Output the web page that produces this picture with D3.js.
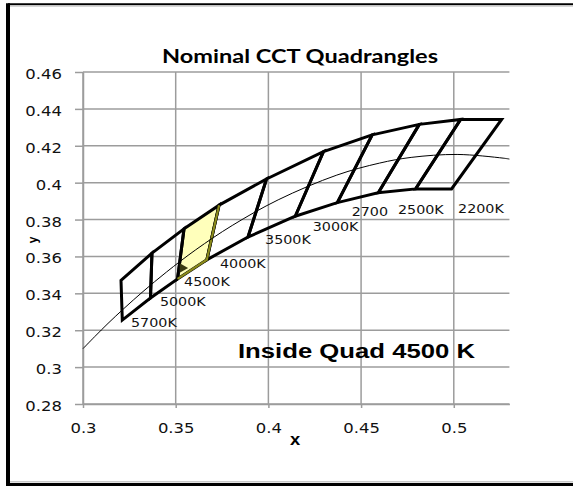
<!DOCTYPE html>
<html>
<head>
<meta charset="utf-8">
<script src="https://cdn.jsdelivr.net/npm/d3@7"></script>
<style>
  body { margin: 0; background: #fff; }
  svg { display: block; }
</style>
</head>
<body>
<div id="chart"></div>
<script>
// quadrangle boundaries (CIE 1931 x, y), cool -> warm
const upperX = [0.3205, 0.3372, 0.3545, 0.3734, 0.3990, 0.4297, 0.4560, 0.4814, 0.5037, 0.5258];
const upperY = [0.3470, 0.3618, 0.3750, 0.3878, 0.4020, 0.4168, 0.4259, 0.4316, 0.4343, 0.4343];
const lowerX = [0.3212, 0.3364, 0.3510, 0.3668, 0.3890, 0.4145, 0.4372, 0.4593, 0.4794, 0.4988];
const lowerY = [0.3255, 0.3375, 0.3478, 0.3582, 0.3705, 0.3818, 0.3892, 0.3945, 0.3966, 0.3966];

const quadNames = ["5700K", "5000K", "4500K", "4000K", "3500K", "3000K", "2700", "2500K", "2200K"];
// where each data label sits (left / middle of the text)
const labelX = [0.3259, 0.3415, 0.3545, 0.3739, 0.3982, 0.4239, 0.4449, 0.4699, 0.5023];
const labelY = [0.3244, 0.3356, 0.3465, 0.3562, 0.3695, 0.3766, 0.3843, 0.3857, 0.3863];

// blackbody locus
const locusX = [0.300, 0.3064, 0.3135, 0.3221, 0.3324, 0.3451, 0.3608, 0.3805, 0.4053, 0.4369, 0.4599, 0.4770, 0.5018, 0.5266, 0.530];
const locusY = [0.310, 0.3166, 0.3237, 0.3318, 0.3410, 0.3516, 0.3636, 0.3768, 0.3907, 0.4041, 0.4106, 0.4137, 0.4153, 0.4133, 0.4128];

const xTicks = [0.3, 0.35, 0.4, 0.45, 0.5];
const yTicks = [0.28, 0.3, 0.32, 0.34, 0.36, 0.38, 0.4, 0.42, 0.44, 0.46];

const highlight = 2; // 4500K quad
const title = "Nominal CCT Quadrangles";
const note = "Inside Quad 4500 K";

const width = 573;
const height = 486;

const svg = d3
  .select("#chart")
  .append("svg")
  .attr("width", width)
  .attr("height", height);

const x = d3.scaleLinear().domain([0.3, 0.53]).range([83, 509.4]);
const y = d3.scaleLinear().domain([0.28, 0.46]).range([404, 72]);

const gridColor = "#9c9c9c";

// frame
svg.append("line").attr("x1", 8).attr("x2", width).attr("y1", 4.3).attr("y2", 4.3)
  .attr("stroke", "#000").attr("stroke-width", 2);
svg.append("line").attr("x1", 10).attr("x2", width).attr("y1", 6.2).attr("y2", 6.2)
  .attr("stroke", "#c8c8c8").attr("stroke-width", 1.2);
svg.append("line").attr("x1", 8).attr("x2", width).attr("y1", 484.5).attr("y2", 484.5)
  .attr("stroke", "#000").attr("stroke-width", 3);
svg.append("line").attr("x1", 10).attr("x2", width).attr("y1", 481.8).attr("y2", 481.8)
  .attr("stroke", "#c8c8c8").attr("stroke-width", 1.5);
svg.append("line").attr("x1", 8).attr("x2", 8).attr("y1", 3.3).attr("y2", height)
  .attr("stroke", "#000").attr("stroke-width", 4);

// gridlines
svg.append("g")
  .selectAll("line")
  .data(xTicks)
  .join("line")
  .attr("x1", (d) => x(d))
  .attr("x2", (d) => x(d))
  .attr("y1", y(0.46))
  .attr("y2", y(0.28))
  .attr("stroke", gridColor)
  .attr("stroke-width", 1.5);

svg.append("g")
  .selectAll("line")
  .data(yTicks)
  .join("line")
  .attr("x1", x(0.3))
  .attr("x2", x(0.53))
  .attr("y1", (d) => y(d))
  .attr("y2", (d) => y(d))
  .attr("stroke", gridColor)
  .attr("stroke-width", 1.5);

const fmt = (d) => String(+d.toFixed(2));

// axes
const yAxis = svg
  .append("g")
  .attr("transform", `translate(${x(0.3)},0)`)
  .call(d3.axisLeft(y).tickValues(yTicks).tickSize(8).tickSizeOuter(0).tickFormat(fmt));

const xAxis = svg
  .append("g")
  .attr("transform", `translate(0,${y(0.28)})`)
  .call(d3.axisBottom(x).tickValues(xTicks).tickSize(4).tickSizeOuter(0).tickFormat(fmt));

[yAxis, xAxis].forEach((ax) => {
  ax.select(".domain").attr("stroke", gridColor).attr("stroke-width", 1.5);
  ax.selectAll(".tick line").attr("stroke", gridColor).attr("stroke-width", 1.5);
  ax.selectAll(".tick text")
    .attr("fill", "#111")
    .style("font-family", "'DejaVu Sans', Verdana, sans-serif")
    .style("font-size", "13.5px");
});

yAxis.selectAll(".tick text")
  .attr("x", -21 / 1.22)
  .attr("dy", null)
  .attr("y", 6.5)
  .attr("transform", "scale(1.22,1)");

xAxis.selectAll(".tick text")
  .attr("dy", null)
  .attr("y", 29)
  .attr("transform", "scale(1.22,1)");

// quadrangles
const quads = quadNames.map((name, i) => ({
  name,
  pts: [
    [upperX[i], upperY[i]],
    [upperX[i + 1], upperY[i + 1]],
    [lowerX[i + 1], lowerY[i + 1]],
    [lowerX[i], lowerY[i]],
  ],
}));

const poly = (pts) => "M" + pts.map((p) => `${x(p[0])},${y(p[1])}`).join("L") + "Z";

const hq = quads[highlight];
svg.append("path")
  .attr("d", poly(hq.pts))
  .attr("fill", "#ffffbb")
  .attr("stroke", "none");

svg.append("g")
  .selectAll("path")
  .data(quads)
  .join("path")
  .attr("d", (d) => poly(d.pts))
  .attr("fill", "none")
  .attr("stroke", "#000")
  .attr("stroke-width", 3)
  .attr("stroke-linejoin", "miter");

// olive edge on the highlighted quad (right side and bottom)
svg.append("path")
  .attr("d", d3.line().x((p) => x(p[0])).y((p) => y(p[1]))([hq.pts[1], hq.pts[2], hq.pts[3]]))
  .attr("fill", "none")
  .attr("stroke", "#8a8a1a")
  .attr("stroke-width", 2.2);

// small marker at the lower-left corner of the highlighted quad
svg.append("path")
  .attr("d", d3.symbol(d3.symbolTriangle, 40)())
  .attr("transform", `translate(${x(0.3537)},${y(0.3537)}) rotate(90)`)
  .attr("fill", "#3a3a10");

// blackbody locus
const locus = locusX.map((v, i) => [v, locusY[i]]);
svg.append("path")
  .attr("d", d3.line().x((p) => x(p[0])).y((p) => y(p[1])).curve(d3.curveCatmullRom)(locus))
  .attr("fill", "none")
  .attr("stroke", "#000")
  .attr("stroke-width", 1);

// data labels
svg.append("g")
  .selectAll("text")
  .data(quadNames)
  .join("text")
  .attr("transform", (d, i) => `translate(${x(labelX[i])},${y(labelY[i])}) scale(1.1,1)`)
  .attr("dy", "0.36em")
  .style("font-family", "'DejaVu Sans', Verdana, sans-serif")
  .style("font-size", "13px")
  .attr("fill", "#111")
  .text((d) => d);

// titles
svg.append("text")
  .attr("x", 162)
  .attr("y", 62.7)
  .attr("textLength", 276)
  .attr("lengthAdjust", "spacingAndGlyphs")
  .style("font-family", "Lato, 'Open Sans', sans-serif")
  .style("font-weight", "bold")
  .style("font-size", "18px")
  .text(title);

svg.append("text")
  .attr("x", x(0.3836))
  .attr("y", y(0.3049))
  .attr("textLength", 237)
  .attr("lengthAdjust", "spacingAndGlyphs")
  .style("font-family", "'Liberation Sans', Arial, sans-serif")
  .style("font-weight", "bold")
  .style("font-size", "20px")
  .text(note);

svg.append("text")
  .attr("transform", `translate(${(x(0.3) + x(0.53)) / 2 - 1},445) scale(1.15,1)`)
  .attr("text-anchor", "middle")
  .style("font-family", "'Liberation Sans', Arial, sans-serif")
  .style("font-weight", "bold")
  .style("font-size", "16px")
  .text("x");

svg.append("text")
  .attr("transform", "translate(37,240) rotate(-90)")
  .attr("text-anchor", "middle")
  .style("font-family", "'Liberation Sans', Arial, sans-serif")
  .style("font-weight", "bold")
  .style("font-size", "12px")
  .text("y");
</script>
</body>
</html>
